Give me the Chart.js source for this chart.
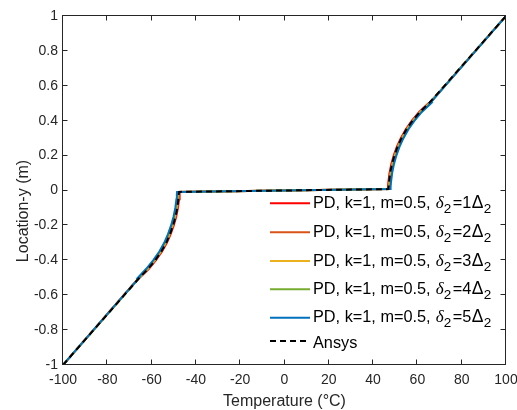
<!DOCTYPE html>
<html>
<head>
<meta charset="utf-8">
<title>Location-y vs Temperature</title>
<script src="https://cdn.jsdelivr.net/npm/chart.js@4.4.1/dist/chart.umd.min.js"></script>
<style>
  html, body { margin: 0; padding: 0; background: #fff; }
  #wrap { width: 517px; height: 410px; }
</style>
</head>
<body>
<div id="wrap"><canvas id="chart" width="517" height="410"></canvas></div>
<script>
// --- Data ---
// shared location-y samples (m); +-0.5 appear twice for the small PD kink
const LOCATION_Y = [-1, -0.9, -0.8, -0.7, -0.6, -0.5, -0.5, -0.45, -0.4, -0.35, -0.3, -0.25, -0.2, -0.15, -0.1, -0.05, -0.02, -0.008,
                    0.008, 0.02, 0.05, 0.1, 0.15, 0.2, 0.25, 0.3, 0.35, 0.4, 0.45, 0.5, 0.5, 0.6, 0.7, 0.8, 0.9, 1];

// temperature (°C) at each sample, one array per curve
const T_PD1 = [-100, -93.2, -86.3, -79.5, -72.6, -65.7, -65.4, -61.3, -58.1, -55.3, -53.1, -51.4, -50.0, -48.9, -48.1, -47.6, -47.4, -47.3,
               46.6, 46.7, 46.9, 47.4, 48.2, 49.3, 50.7, 52.5, 54.7, 57.5, 60.8, 65.0, 65.4, 72.3, 79.2, 86.2, 93.1, 100];
const T_PD2 = [-100, -93.2, -86.3, -79.4, -72.5, -65.6, -65.6, -61.6, -58.4, -55.6, -53.4, -51.7, -50.3, -49.2, -48.4, -47.9, -47.7, -47.6,
               46.9, 47.0, 47.2, 47.7, 48.5, 49.6, 51.0, 52.8, 55.0, 57.8, 61.1, 65.3, 65.5, 72.4, 79.3, 86.2, 93.1, 100];
const T_PD3 = [-100, -93.1, -86.2, -79.3, -72.4, -65.5, -65.8, -61.9, -58.7, -55.9, -53.7, -52.0, -50.6, -49.5, -48.7, -48.2, -48.0, -47.9,
               47.2, 47.3, 47.5, 48.0, 48.8, 49.9, 51.3, 53.1, 55.3, 58.1, 61.4, 65.6, 65.5, 72.4, 79.3, 86.2, 93.1, 100];
const T_PD4 = [-100, -93.1, -86.2, -79.3, -72.4, -65.5, -66.0, -62.2, -59.0, -56.2, -54.0, -52.3, -50.9, -49.8, -49.0, -48.5, -48.3, -48.2,
               47.5, 47.6, 47.8, 48.3, 49.1, 50.2, 51.6, 53.4, 55.6, 58.4, 61.7, 65.9, 65.5, 72.4, 79.3, 86.2, 93.1, 100];
const T_PD5 = [-100, -93.2, -86.3, -79.4, -72.5, -65.6, -66.2, -62.5, -59.3, -56.5, -54.3, -52.6, -51.2, -50.1, -49.3, -48.8, -48.6, -48.5,
               47.8, 47.9, 48.1, 48.6, 49.4, 50.5, 51.9, 53.7, 55.9, 58.7, 62.0, 66.2, 65.7, 72.5, 79.4, 86.3, 93.2, 100];
const T_ANSYS = [-100, -93.1, -86.2, -79.3, -72.4, -65.5, -65.5, -61.6, -58.4, -55.6, -53.4, -51.7, -50.3, -49.2, -48.4, -47.9, -47.7, -47.6,
                 46.9, 47.0, 47.2, 47.7, 48.5, 49.6, 51.0, 52.8, 55.0, 57.8, 61.1, 65.2, 65.2, 72.2, 79.1, 86.1, 93.0, 100];

const PD_SERIES = [T_PD1, T_PD2, T_PD3, T_PD4, T_PD5];
const PD_DELTA = [1, 2, 3, 4, 5];
const PD_COLORS = ['#FF0000', '#D95319', '#EDB120', '#77AC30', '#0072BD'];

const X_TICKS = [-100, -80, -60, -40, -20, 0, 20, 40, 60, 80, 100];
const Y_TICKS = [-1, -0.8, -0.6, -0.4, -0.2, 0, 0.2, 0.4, 0.6, 0.8, 1];

const X_TITLE = 'Temperature (°C)';
const Y_TITLE = 'Location-y (m)';

const SANS = '"Liberation Sans", Arial, sans-serif';
const AXIS_COLOR = '#262626';

function toPoints(temps) {
  return temps.map((t, i) => ({ x: t, y: LOCATION_Y[i] }));
}

// --- Datasets ---
const datasets = PD_SERIES.map((temps, i) => ({
  label: `PD, k=1, m=0.5, δ₂=${PD_DELTA[i]}Δ₂`,
  delta: PD_DELTA[i],
  data: toPoints(temps),
  borderColor: PD_COLORS[i],
  borderWidth: 2,
  showLine: true,
  pointRadius: 0,
  order: 5 - i
}));
datasets.push({
  label: 'Ansys',
  data: toPoints(T_ANSYS),
  borderColor: '#000000',
  borderWidth: 2,
  borderDash: [6, 4],
  showLine: true,
  pointRadius: 0,
  order: 0
});

// legend text "PD, k=1, m=0.5, δ2=nΔ2" with TeX-like subscripts
function drawPdLabel(ctx, tx, b, delta) {
  ctx.font = '16.3px ' + SANS;
  ctx.fillText('PD, k=1, m=0.5,', tx, b);
  const e = tx + ctx.measureText('PD, k=1, m=0.5,').width;
  ctx.font = 'italic 17px "Liberation Serif", serif';
  ctx.fillText('δ', e + 5, b);
  ctx.font = '13.5px ' + SANS;
  ctx.fillText('2', e + 13, b + 5);
  ctx.font = '16.3px ' + SANS;
  ctx.fillText('=' + delta, e + 22, b);
  ctx.font = '17.5px ' + SANS;
  ctx.fillText('Δ', e + 41, b);
  ctx.font = '13.5px ' + SANS;
  ctx.fillText('2', e + 53, b + 5);
}

// --- Box, inward ticks, axis titles, legend ---
const matlabFrame = {
  id: 'matlabFrame',
  afterDraw(chart) {
    const { ctx, chartArea: a, scales: { x, y } } = chart;
    const L = Math.round(a.left) - 0.5, R = Math.round(a.right) - 0.5;
    const T = Math.round(a.top) - 0.5, B = Math.round(a.bottom) - 0.5;
    const tick = 5;
    ctx.save();
    ctx.strokeStyle = AXIS_COLOR;
    ctx.lineWidth = 1;
    ctx.setLineDash([]);
    ctx.strokeRect(L, T, R - L, B - T);
    ctx.beginPath();
    X_TICKS.forEach(v => {
      const px = Math.round(x.getPixelForValue(v)) - 0.5;
      ctx.moveTo(px, B); ctx.lineTo(px, B - tick);
      ctx.moveTo(px, T); ctx.lineTo(px, T + tick);
    });
    Y_TICKS.forEach(v => {
      const py = Math.round(y.getPixelForValue(v)) - 0.5;
      ctx.moveTo(L, py); ctx.lineTo(L + tick, py);
      ctx.moveTo(R, py); ctx.lineTo(R - tick, py);
    });
    ctx.stroke();

    // axis titles
    ctx.fillStyle = AXIS_COLOR;
    ctx.font = '16px ' + SANS;
    ctx.textAlign = 'center';
    ctx.textBaseline = 'alphabetic';
    ctx.fillText(X_TITLE, (a.left + a.right) / 2, 406);
    ctx.save();
    ctx.translate(28, 211);
    ctx.rotate(-Math.PI / 2);
    ctx.fillText(Y_TITLE, 0, 0);
    ctx.restore();

    // legend
    const rows = [203.3, 232.3, 261, 289.3, 317.7, 341];
    const x0 = 270, x1 = 310, tx = 313;
    ctx.textAlign = 'left';
    ctx.fillStyle = '#000';
    chart.data.datasets.forEach((ds, i) => {
      const ly = rows[i];
      ctx.strokeStyle = ds.borderColor;
      ctx.lineWidth = 2;
      ctx.setLineDash(ds.borderDash || []);
      ctx.beginPath();
      ctx.moveTo(x0, ly); ctx.lineTo(x1, ly);
      ctx.stroke();
      ctx.setLineDash([]);
      if (ds.delta) {
        drawPdLabel(ctx, tx, ly + 4.5, ds.delta);
      } else {
        ctx.font = '16.3px ' + SANS;
        ctx.fillText(ds.label, tx, ly + 6.5);
      }
    });
    ctx.restore();
  }
};

// --- Chart ---
new Chart(document.getElementById('chart').getContext('2d'), {
  type: 'scatter',
  data: { datasets },
  options: {
    responsive: false,
    animation: false,
    layout: { padding: { left: 0, right: 11, top: 16, bottom: 0 } },
    plugins: { legend: { display: false }, tooltip: { enabled: false } },
    scales: {
      x: {
        type: 'linear', min: -100, max: 100,
        afterBuildTicks: s => { s.ticks = X_TICKS.map(v => ({ value: v })); },
        afterFit: s => { s.height = 45; s.paddingLeft = 0; s.paddingRight = 0; },
        grid: { display: false, drawTicks: false },
        border: { display: false },
        ticks: { color: AXIS_COLOR, font: { family: SANS, size: 14 }, padding: 7, maxRotation: 0, autoSkip: false,
                 callback: v => String(v) }
      },
      y: {
        type: 'linear', min: -1, max: 1,
        afterBuildTicks: s => { s.ticks = Y_TICKS.map(v => ({ value: v })); },
        afterFit: s => { s.width = 63; s.paddingTop = 0; s.paddingBottom = 0; },
        grid: { display: false, drawTicks: false },
        border: { display: false },
        ticks: { color: AXIS_COLOR, font: { family: SANS, size: 14 }, padding: 5, autoSkip: false,
                 callback: v => String(Math.round(v * 10) / 10) }
      }
    }
  },
  plugins: [matlabFrame]
});
</script>
</body>
</html>
